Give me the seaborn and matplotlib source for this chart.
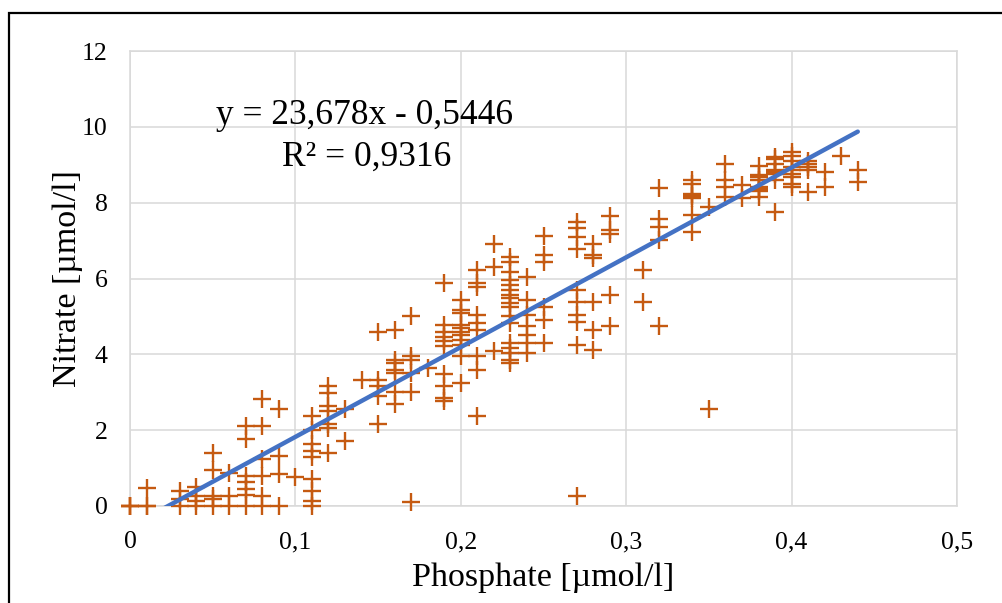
import numpy as np
import pandas as pd
import matplotlib
matplotlib.use("Agg")
import matplotlib.pyplot as plt
import seaborn as sns
from matplotlib.patches import Rectangle

# ---- data ----
phosphate_groups = {
    0.00: [0, 0, 0],
    0.01: [0, 0, 0.48],
    0.03: [0, 0.18, 0.40],
    0.04: [0, 0.14, 0.27, 0.50],
    0.05: [0, 0.18, 0.27, 0.95, 1.41],
    0.06: [0, 0.27, 0.88],
    0.07: [0, 0.30, 0.45, 0.62, 0.80, 1.76, 2.10],
    0.08: [0, 0.27, 0.80, 1.23, 2.10, 2.81],
    0.09: [0, 0.84, 1.32, 2.55],
    0.10: [0.76],
    0.11: [0, 0.14, 0.40, 0.70, 1.28, 1.45, 1.63, 2.00, 2.37],
    0.12: [1.41, 2.07, 2.15, 2.50, 2.63, 2.98, 3.16],
    0.13: [1.71, 2.55],
    0.14: [3.33],
    0.15: [2.15, 2.90, 3.16, 3.33, 4.60],
    0.16: [2.68, 3.00, 3.51, 3.60, 3.77, 3.86, 4.65],
    0.17: [0.10, 3.00, 3.51, 3.86, 3.95, 5.00],
    0.18: [3.64],
    0.19: [2.77, 2.86, 3.16, 3.47, 4.21, 4.34, 4.47, 4.60, 4.78, 5.87],
    0.20: [3.25, 3.95, 4.25, 4.39, 4.52, 4.60, 4.69, 4.78, 5.08, 5.17, 5.44],
    0.21: [2.37, 3.60, 3.95, 4.65, 4.82, 5.04, 5.78, 5.87, 6.22],
    0.22: [4.10, 6.30, 6.92],
    0.23: [3.77, 3.86, 4.03, 4.16, 4.30, 4.82, 5.00, 5.26, 5.35, 5.48, 5.57,
           5.70, 5.83, 5.96, 6.18, 6.44, 6.57],
    0.24: [4.03, 4.30, 4.52, 4.74, 5.04, 5.44, 6.05],
    0.25: [4.30, 4.91, 5.26, 6.44, 6.62, 7.11],
    0.27: [0.27, 4.25, 4.86, 5.04, 5.39, 5.70, 6.79, 7.10, 7.32, 7.49],
    0.28: [4.12, 4.65, 5.39, 6.53, 6.62, 6.92],
    0.29: [4.74, 5.57, 7.18, 7.27, 7.64],
    0.31: [5.39, 6.22],
    0.32: [4.75, 7.01, 7.36, 7.58, 8.38],
    0.34: [7.23, 7.67, 8.11, 8.18, 8.23, 8.50, 8.59],
    0.35: [2.55, 7.88],
    0.36: [8.15, 8.41, 8.59, 9.03],
    0.37: [8.11, 8.46],
    0.38: [8.15, 8.32, 8.37, 8.41, 8.59, 8.68, 8.72, 8.98],
    0.39: [7.76, 8.59, 8.76, 8.81, 8.85, 9.03, 9.16, 9.20],
    0.40: [8.41, 8.50, 8.68, 8.76, 8.85, 8.94, 9.11, 9.24, 9.33],
    0.41: [8.28, 8.85, 8.94, 9.03, 9.11],
    0.42: [8.41, 8.81],
    0.43: [9.22],
    0.44: [8.54, 8.85],
}
phosphate = [x for x, ys in phosphate_groups.items() for _ in ys]
nitrate = [y for ys in phosphate_groups.values() for y in ys]

trend_slope = 23.678
trend_intercept = -0.5446
trend_r2 = 0.9316
trend_x = [0.0, 0.44]

x_ticks = [0, 0.1, 0.2, 0.3, 0.4, 0.5]
y_ticks = [0, 2, 4, 6, 8, 10, 12]

# ---- style ----
sns.set_theme(style="white")
plt.rcParams["font.family"] = ["Liberation Serif", "DejaVu Serif"]
plt.rcParams["text.color"] = "black"

fig = plt.figure(figsize=(10.02, 6.03), dpi=100)
ax = fig.add_axes([130 / 1002, 1 - 506 / 603, (957 - 130) / 1002, (506 - 51) / 603])

df = pd.DataFrame({"Phosphate": phosphate, "Nitrate": nitrate})
sns.scatterplot(data=df, x="Phosphate", y="Nitrate", marker="+", color="#C55A11",
                s=185, linewidth=1.7, ax=ax, clip_on=False, zorder=3)

tx = np.array(trend_x)
tdf = pd.DataFrame({"x": tx, "y": trend_slope * tx + trend_intercept})
sns.lineplot(data=tdf, x="x", y="y", color="#4472C4", linewidth=3.2, ax=ax, zorder=4)

ax.set_xlim(0, 0.5)
ax.set_ylim(0, 12)
ax.set_xticks(x_ticks)
ax.set_yticks(y_ticks)
ax.set_xticklabels([("%g" % v).replace(".", ",") for v in x_ticks])
ax.set_yticklabels([("%g" % v) for v in y_ticks])
ax.tick_params(axis="both", length=0, labelsize=18.5, colors="black")
ax.tick_params(axis="x", pad=18)
ax.tick_params(axis="y", pad=16)

ax.grid(True, color="#d9d9d9", linewidth=1.1)
ax.set_axisbelow(True)
for sp in ax.spines.values():
    sp.set_color("#d9d9d9")
    sp.set_linewidth(1.1)

ax.set_xlabel("Phosphate [µmol/l]", fontsize=24.5, color="black", labelpad=7)
ax.set_ylabel("Nitrate [µmol/l]", fontsize=24.5, color="black", labelpad=-1)

eq = "y = %sx - %s" % (("%.3f" % trend_slope).replace(".", ","),
                        ("%.4f" % -trend_intercept).replace(".", ","))
fig.text(364 / 1002, 1 - 116 / 603, eq, fontsize=25.5, ha="center", va="center",
         color="black")
fig.text(367 / 1002, 1 - 157 / 603, "R² = " + ("%.4f" % trend_r2).replace(".", ","),
         fontsize=25.5, ha="center", va="center", color="black")

# outer chart frame (partially visible)
fig.patches.append(Rectangle((8.7 / 1002, -0.2), 1.5, 1.2 - 12.7 / 603,
                             transform=fig.transFigure, fill=False,
                             edgecolor="black", linewidth=1.6))

fig.savefig("out.png", dpi=100)
